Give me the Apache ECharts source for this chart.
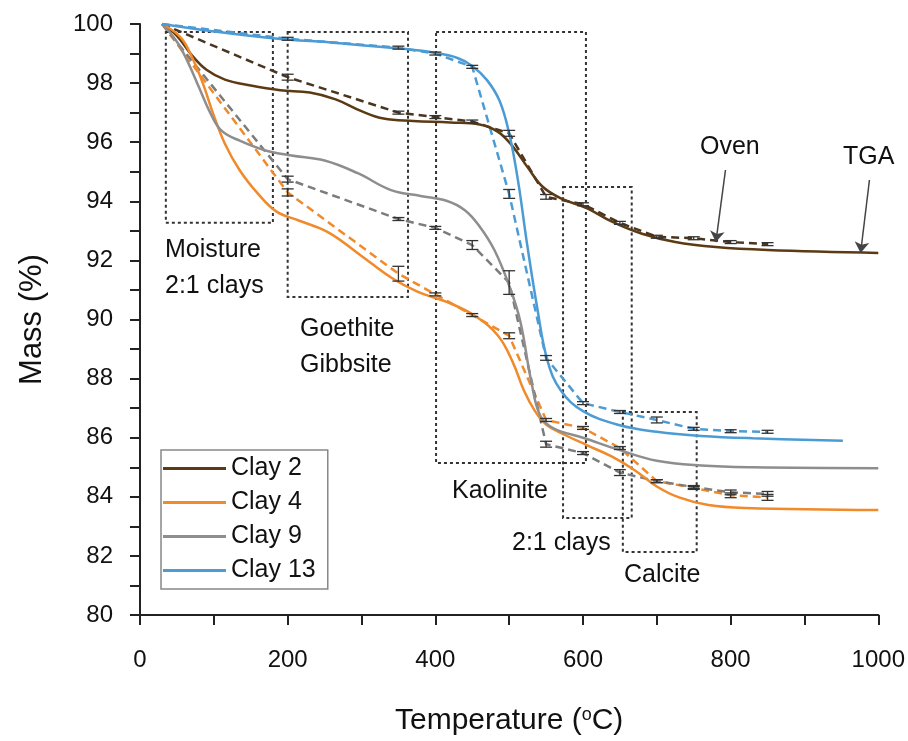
<!DOCTYPE html>
<html>
<head>
<meta charset="utf-8">
<script src="https://cdn.jsdelivr.net/npm/echarts@6/dist/echarts.min.js"></script>
<style>
  html, body { margin: 0; padding: 0; background: #fff; }
  #chart { width: 908px; height: 741px; }
</style>
</head>
<body>
<div id="chart"></div>
<script>
// TGA curves (solid), [temperature °C, mass %]
const clay2Tga = [[30,100],[50,99.6],[70,98.95],[90,98.45],[115,98.12],[150,97.92],[190,97.76],[230,97.68],[265,97.45],[300,97.05],[330,96.8],[370,96.72],[420,96.67],[460,96.6],[485,96.35],[505,95.85],[525,95.15],[545,94.5],[570,94.1],[605,93.77],[640,93.3],[680,92.9],[725,92.62],[780,92.45],[850,92.35],[1000,92.25]]
const clay4Tga = [[30,100],[55,99.55],[70,98.9],[85,98.0],[100,96.9],[115,95.95],[135,95.05],[160,94.25],[185,93.65],[215,93.35],[255,92.95],[300,92.15],[340,91.42],[375,90.95],[420,90.55],[455,90.1],[485,89.45],[505,88.55],[520,87.6],[535,86.9],[550,86.45],[575,86.1],[605,85.75],[640,85.35],[670,84.9],[700,84.35],[730,83.98],[770,83.72],[820,83.62],[1000,83.55]]
const clay9Tga = [[30,100],[50,99.4],[65,98.7],[80,97.85],[95,97.0],[110,96.4],[135,96.05],[170,95.72],[205,95.55],[250,95.38],[295,94.95],[340,94.38],[380,94.18],[415,94.02],[440,93.7],[460,93.15],[480,92.35],[500,91.15],[515,89.95],[530,87.9],[542,86.75],[560,86.32],[600,86.0],[650,85.58],[700,85.22],[760,85.06],[830,85.0],[1000,84.97]]
const clay13Tga = [[30,100],[100,99.75],[180,99.52],[270,99.35],[360,99.15],[400,99.02],[430,98.85],[450,98.58],[470,98.1],[487,97.4],[500,96.3],[512,94.7],[524,92.6],[538,90.4],[552,88.6],[570,87.6],[600,86.9],[650,86.42],[700,86.2],[760,86.06],[830,85.98],[952,85.9]]

// Oven measurements (dashed, with error bars)
const ovenTemps = [30, 200, 350, 400, 450, 500, 550, 600, 650, 700, 750, 800, 850]
const clay2Oven = [100, 98.2, 97.0, 96.85, 96.7, 96.3, 94.15, 93.9, 93.27, 92.8, 92.75, 92.62, 92.55]
const clay4Oven = [100, 94.3, 91.55, 90.85, 90.15, 89.45, 86.6, 86.33, 85.65, 84.53, 84.3, 84.05, 83.98]
const clay9Oven = [100, 94.75, 93.4, 93.1, 92.52, 91.25, 85.78, 85.48, 84.82, 84.53, 84.33, 84.15, 84.1]
const clay13Oven = [100, 99.5, 99.2, 99.0, 98.55, 94.25, 88.7, 87.17, 86.87, 86.6, 86.3, 86.22, 86.2]
const clay2Err = [0, 0.1, 0.05, 0.05, 0.05, 0.1, 0.08, 0.05, 0.05, 0.05, 0.05, 0.05, 0.05]
const clay4Err = [0, 0.12, 0.25, 0.05, 0.05, 0.1, 0.05, 0.05, 0.05, 0.05, 0.05, 0.08, 0.1]
const clay9Err = [0, 0.1, 0.05, 0.05, 0.15, 0.4, 0.1, 0.05, 0.1, 0.05, 0.05, 0.08, 0.08]
const clay13Err = [0, 0.05, 0.05, 0.05, 0.05, 0.15, 0.08, 0.05, 0.05, 0.1, 0.05, 0.05, 0.05]

const clayNames = ['Clay 2', 'Clay 4', 'Clay 9', 'Clay 13']

// dotted boxes: [tMin, massMax, tMax, massMin]
const regionBoxes = [
  [35, 99.73, 180, 93.27],
  [200, 99.73, 363, 90.76],
  [401, 99.73, 604, 85.14],
  [573, 94.48, 666, 83.28],
  [654, 86.87, 754, 82.13],
]

const FONT = '"Liberation Sans", Arial, sans-serif'
const colors = ['#5b3a14', '#f08a2b', '#8e8e8e', '#4b9bd5']
const dashColors = ['#4a3520', '#f08a2b', '#7c7c7c', '#4b9bd5']

const tgaSets = [clay2Tga, clay4Tga, clay9Tga, clay13Tga]
const ovenSets = [clay2Oven, clay4Oven, clay9Oven, clay13Oven]
const errSets = [clay2Err, clay4Err, clay9Err, clay13Err]

const errorData = []
ovenSets.forEach((vals, k) => {
  vals.forEach((v, i) => {
    if (i > 0) errorData.push([ovenTemps[i], v - errSets[k][i], v + errSets[k][i]])
  })
})

const tgaSeries = tgaSets.map((d, k) => ({
  name: clayNames[k],
  type: 'line',
  data: d,
  smooth: 0.4,
  showSymbol: false,
  z: 3,
  itemStyle: { color: colors[k] },
  lineStyle: { color: colors[k], width: 2.5 },
}))

const ovenSeries = ovenSets.map((vals, k) => ({
  name: clayNames[k] + ' oven',
  type: 'line',
  data: vals.map((v, i) => [ovenTemps[i], v]),
  showSymbol: false,
  z: 2,
  itemStyle: { color: dashColors[k] },
  lineStyle: { color: dashColors[k], width: 2.5, type: [8, 5] },
}))

const boxSeries = {
  name: 'regions',
  type: 'line',
  data: [],
  markArea: {
    silent: true,
    itemStyle: { color: 'rgba(0,0,0,0)', borderColor: '#333', borderWidth: 2, borderType: [3, 3] },
    data: regionBoxes.map((b) => [{ coord: [b[0], b[1]] }, { coord: [b[2], b[3]] }]),
  },
  markLine: {
    silent: true,
    symbol: ['none', 'arrow'],
    symbolSize: 11,
    label: { show: false },
    lineStyle: { color: '#444', width: 1.5, type: 'solid' },
    data: [
      [{ coord: [793, 95.06] }, { coord: [780, 92.62] }],
      [{ coord: [988, 94.72] }, { coord: [976, 92.25] }],
    ],
  },
}

const errorSeries = {
  name: 'error bars',
  type: 'custom',
  data: errorData,
  encode: { x: 0, y: [1, 2] },
  z: 4,
  renderItem(params, api) {
    const top = api.coord([api.value(0), api.value(2)])
    const bot = api.coord([api.value(0), api.value(1)])
    const w = 6
    const st = { stroke: '#333', lineWidth: 1.3 }
    return {
      type: 'group',
      children: [
        { type: 'line', shape: { x1: top[0], y1: top[1], x2: bot[0], y2: bot[1] }, style: st },
        { type: 'line', shape: { x1: top[0] - w, y1: top[1], x2: top[0] + w, y2: top[1] }, style: st },
        { type: 'line', shape: { x1: bot[0] - w, y1: bot[1], x2: bot[0] + w, y2: bot[1] }, style: st },
      ],
    }
  },
}

const notes = [
  ['Moisture', 165, 250], ['2:1 clays', 165, 286],
  ['Goethite', 300, 329], ['Gibbsite', 300, 365],
  ['Kaolinite', 452, 491], ['2:1 clays', 512, 543], ['Calcite', 624, 575],
  ['Oven', 700, 147], ['TGA', 843, 157],
]

const chart = echarts.init(document.getElementById('chart'))
chart.setOption({
  backgroundColor: '#fff',
  animation: false,
  textStyle: { fontFamily: FONT },
  grid: { left: 140, right: 29, top: 24, bottom: 126 },
  xAxis: {
    type: 'value',
    min: 0,
    max: 1000,
    interval: 200,
    name: 'Temperature ({sup|o}C)',
    nameLocation: 'middle',
    nameGap: 91,
    nameTextStyle: {
      fontSize: 30, color: '#111', fontFamily: FONT,
      rich: { sup: { fontSize: 18, color: '#111', fontFamily: FONT, padding: [0, 0, 12, 0] } },
    },
    axisLine: { lineStyle: { color: '#222', width: 2 } },
    axisTick: { length: 10, lineStyle: { color: '#222', width: 2 } },
    minorTick: { show: true, splitNumber: 2, length: 10, lineStyle: { color: '#222', width: 2 } },
    axisLabel: { fontSize: 24, color: '#111', margin: 33, fontFamily: FONT, formatter: (v) => String(v) },
    splitLine: { show: false },
  },
  yAxis: {
    type: 'value',
    min: 80,
    max: 100,
    interval: 2,
    name: 'Mass (%)',
    nameLocation: 'middle',
    nameGap: 92,
    nameTextStyle: { fontSize: 31, color: '#111', fontFamily: FONT },
    axisLine: { show: true, lineStyle: { color: '#222', width: 2 } },
    axisTick: { show: true, length: 10, lineStyle: { color: '#222', width: 2 } },
    minorTick: { show: true, splitNumber: 2, length: 10, lineStyle: { color: '#222', width: 2 } },
    axisLabel: { fontSize: 24, color: '#111', margin: 27, fontFamily: FONT },
    splitLine: { show: false },
  },
  legend: {
    data: clayNames,
    orient: 'vertical',
    left: 161,
    top: 450,
    icon: 'rect',
    itemWidth: 63,
    itemHeight: 3,
    itemGap: 9,
    padding: [6, 12, 6, 2],
    borderColor: '#888',
    borderWidth: 1.5,
    backgroundColor: '#fff',
    textStyle: { fontSize: 25, color: '#111', fontFamily: FONT },
  },
  graphic: notes.map((n) => ({
    type: 'text',
    x: n[1],
    y: n[2],
    z: 10,
    style: { text: n[0], fill: '#111', font: '25px ' + FONT, align: 'left', verticalAlign: 'middle' },
  })),
  series: [boxSeries, ...ovenSeries, ...tgaSeries, errorSeries],
})
</script>
</body>
</html>
